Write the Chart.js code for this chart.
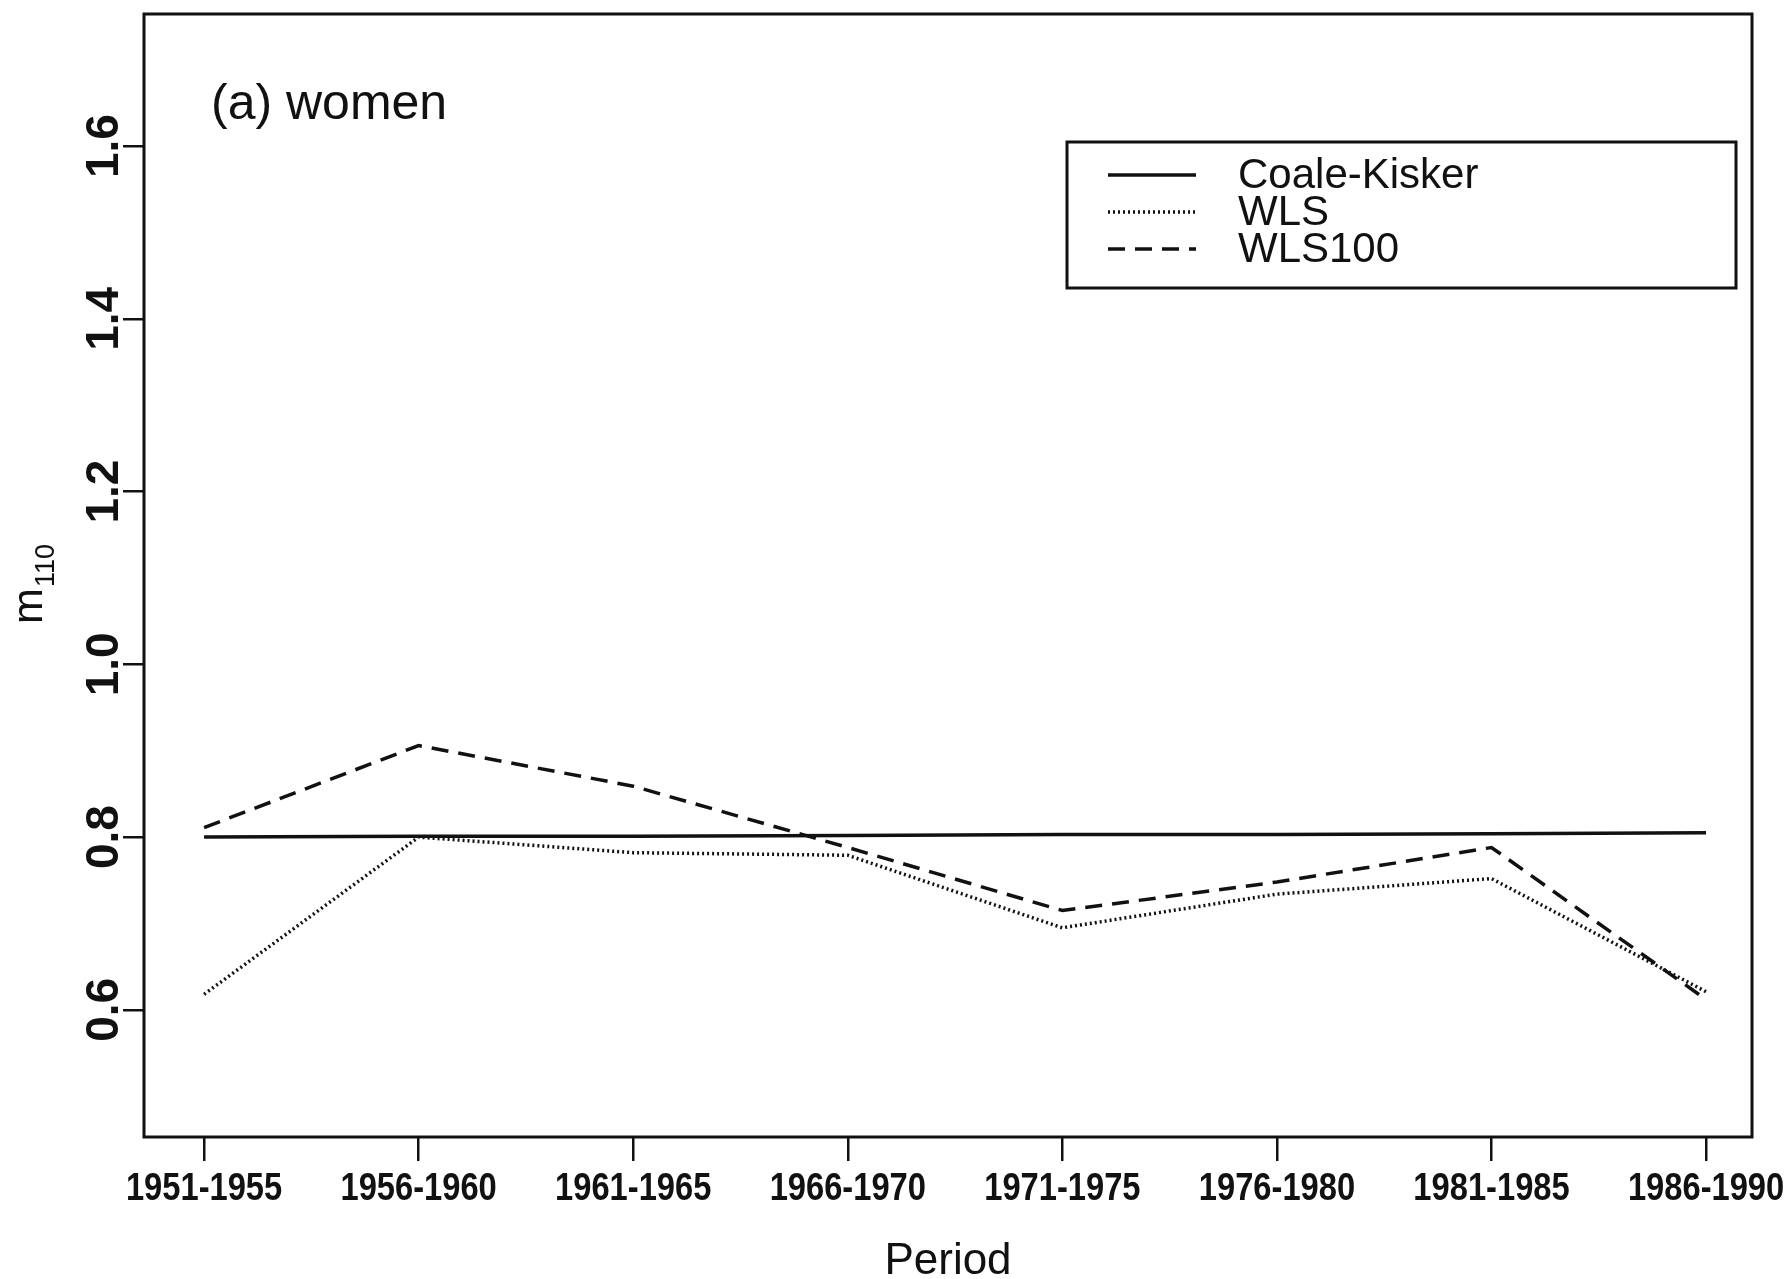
<!DOCTYPE html>
<html>
<head>
<meta charset="utf-8">
<script src="https://cdn.jsdelivr.net/npm/chart.js@4.4.1/dist/chart.umd.min.js"></script>
<style>
  html, body { margin: 0; padding: 0; background: #fff; }
  #wrap { width: 1787px; height: 1279px; }
</style>
</head>
<body>
<div id="wrap"><canvas id="chart" width="1787" height="1279"></canvas></div>
<script>
// values
const periods = ['1951-1955', '1956-1960', '1961-1965', '1966-1970', '1971-1975', '1976-1980', '1981-1985', '1986-1990'];
const coaleKisker = [0.800, 0.801, 0.801, 0.802, 0.803, 0.803, 0.804, 0.805];
const wls = [0.618, 0.800, 0.782, 0.779, 0.695, 0.734, 0.752, 0.621];
const wls100 = [0.811, 0.906, 0.859, 0.788, 0.715, 0.748, 0.788, 0.612];
const yTicks = [0.6, 0.8, 1.0, 1.2, 1.4, 1.6];

const ink = '#111';
const sans = "'Liberation Sans', Arial, sans-serif";

function pts(arr) {
    return arr.map((v, i) => ({ x: i, y: v }));
}

// box round the plot, condensed period labels, panel label, y title, legend
const extras = {
    id: 'extras',
    afterDraw(chart) {
        const ctx = chart.ctx;
        const a = chart.chartArea;
        ctx.save();
        ctx.strokeStyle = ink;
        ctx.fillStyle = ink;
        ctx.lineWidth = 3;
        ctx.strokeRect(a.left, a.top, a.right - a.left, a.bottom - a.top);

        // period labels, squeezed like the original's narrow bold face
        const xs = chart.scales.x;
        ctx.font = 'bold 38px ' + sans;
        ctx.textAlign = 'center';
        ctx.textBaseline = 'alphabetic';
        xs.ticks.forEach(t => {
            const px = xs.getPixelForValue(t.value);
            ctx.save();
            ctx.translate(px, 1200);
            ctx.scale(0.86, 1);
            ctx.fillText(periods[t.value], 0, 0);
            ctx.restore();
        });

        ctx.font = '50px ' + sans;
        ctx.textAlign = 'left';
        ctx.fillText('(a) women', 211, 119);

        // y title: m with subscript 110, reading upwards
        ctx.save();
        ctx.translate(42, (a.top + a.bottom) / 2 + 9);
        ctx.rotate(-Math.PI / 2);
        ctx.font = '43px ' + sans;
        const mw = ctx.measureText('m').width;
        ctx.font = '27px ' + sans;
        const sw = ctx.measureText('110').width;
        const x0 = -(mw + sw) / 2;
        ctx.font = '43px ' + sans;
        ctx.fillText('m', x0, 0);
        ctx.font = '27px ' + sans;
        ctx.fillText('110', x0 + mw + 1, 12);
        ctx.restore();

        // legend
        const bx = 1067, by = 142, bw = 669, bh = 146;
        ctx.lineWidth = 3;
        ctx.strokeRect(bx, by, bw, bh);
        const rows = [175, 212, 249];
        ctx.font = '42px ' + sans;
        ctx.textBaseline = 'middle';
        chart.data.datasets.forEach((ds, i) => {
            ctx.beginPath();
            ctx.setLineDash(ds.borderDash || []);
            ctx.lineWidth = ds.borderWidth;
            ctx.moveTo(1108, rows[i]);
            ctx.lineTo(1196, rows[i]);
            ctx.stroke();
            ctx.setLineDash([]);
            ctx.fillText(ds.label, 1238, rows[i] + 1);
        });
        ctx.restore();
    }
};

new Chart(document.getElementById('chart'), {
    type: 'line',
    data: {
        datasets: [
            { label: 'Coale-Kisker', data: pts(coaleKisker), borderColor: ink, borderWidth: 3.5, borderDash: [] },
            { label: 'WLS', data: pts(wls), borderColor: ink, borderWidth: 3.5, borderDash: [2, 3] },
            { label: 'WLS100', data: pts(wls100), borderColor: ink, borderWidth: 3.5, borderDash: [17, 10] }
        ]
    },
    options: {
        responsive: false,
        animation: false,
        devicePixelRatio: 1,
        layout: { padding: { left: 0, top: 14, right: 35, bottom: 0 } },
        elements: { point: { radius: 0 }, line: { tension: 0 } },
        plugins: { legend: { display: false }, tooltip: { enabled: false } },
        scales: {
            x: {
                type: 'linear',
                min: -0.28,
                max: 7.214,
                afterBuildTicks: s => { s.ticks = periods.map((_, i) => ({ value: i })); },
                afterFit: s => {
                    s.height = 142;
                    s.paddingLeft = 0;
                    s.paddingRight = 0;
                },
                border: { display: false },
                grid: { drawOnChartArea: false, drawTicks: true, tickLength: 24, color: ink, lineWidth: 2.5 },
                ticks: {
                    color: 'rgba(0,0,0,0)',
                    padding: 8,
                    maxRotation: 0,
                    autoSkip: false,
                    font: { family: sans, size: 38, weight: 'bold' },
                    callback: v => periods[v]
                },
                title: {
                    display: true,
                    text: 'Period',
                    color: ink,
                    font: { family: sans, size: 44 },
                    padding: { top: 24, bottom: -9 }
                }
            },
            y: {
                min: 0.4528,
                max: 1.753,
                afterBuildTicks: s => { s.ticks = yTicks.map(v => ({ value: v })); },
                afterFit: s => {
                    s.width = 144;
                    s.paddingTop = 0;
                    s.paddingBottom = 0;
                },
                border: { display: false },
                grid: { drawOnChartArea: false, drawTicks: true, tickLength: 21, color: ink, lineWidth: 2.5 },
                ticks: {
                    color: ink,
                    padding: -14,
                    minRotation: 90,
                    maxRotation: 90,
                    crossAlign: 'center',
                    font: { family: sans, size: 46, weight: 'bold' },
                    callback: v => v.toFixed(1)
                }
            }
        }
    },
    plugins: [extras]
});
</script>
</body>
</html>
